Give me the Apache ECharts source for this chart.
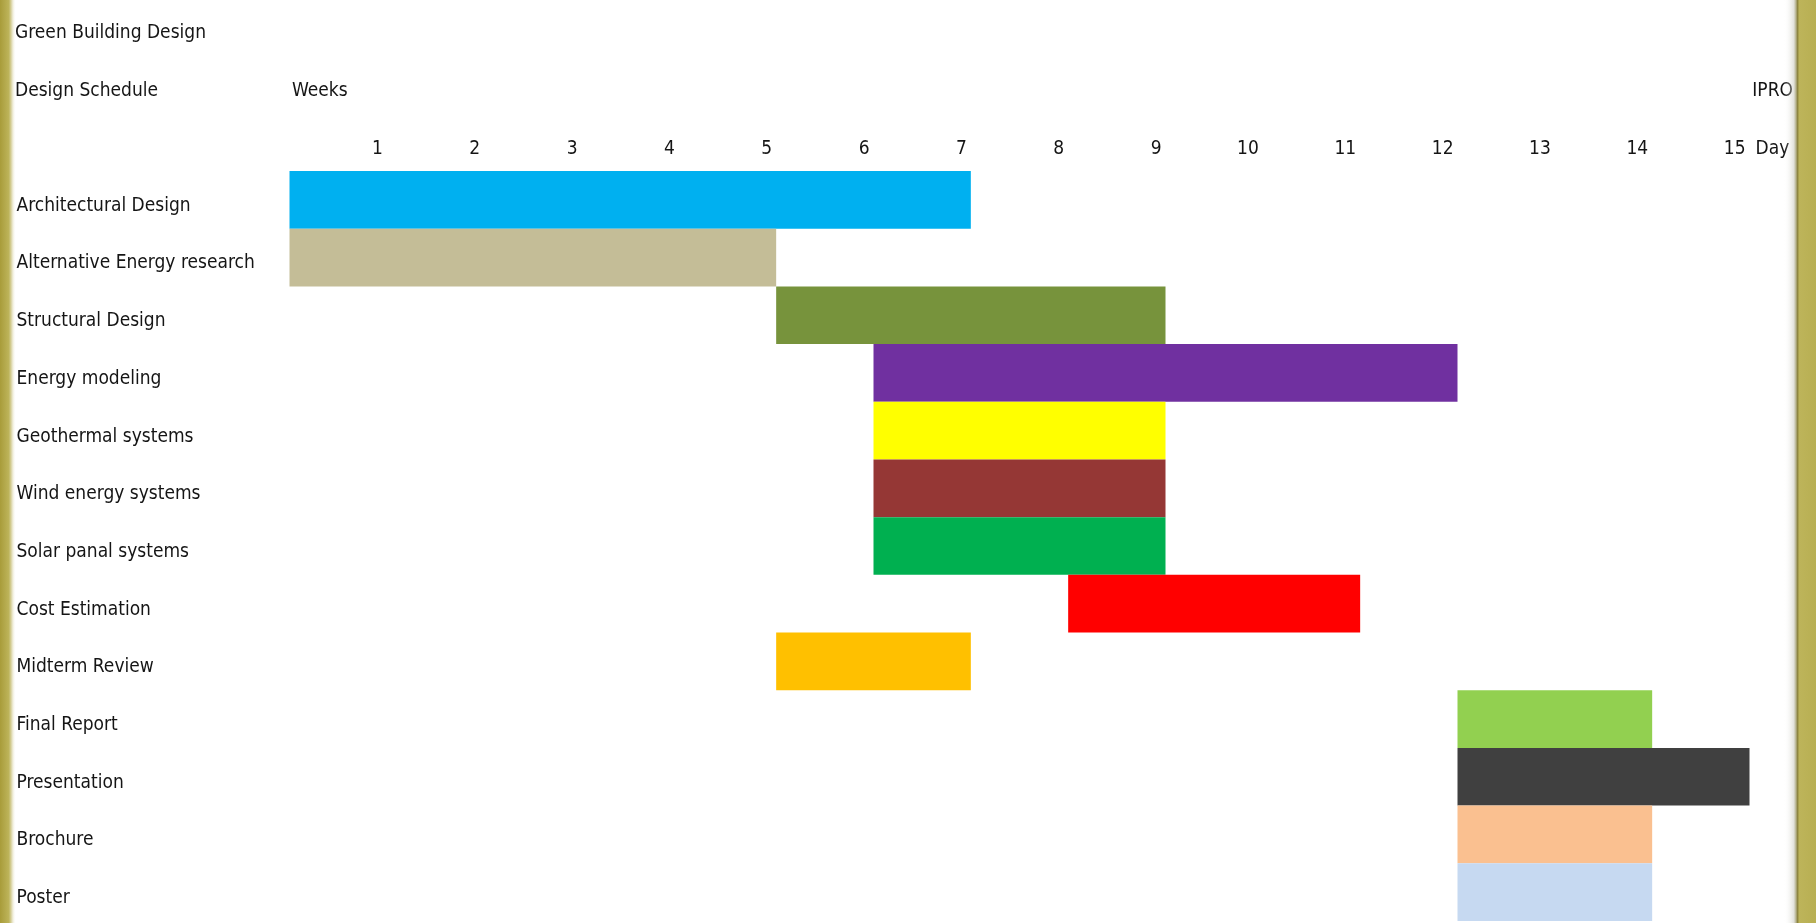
<!DOCTYPE html>
<html>
<head>
<meta charset="utf-8">
<script src="https://cdn.jsdelivr.net/npm/echarts@6/dist/echarts.min.js"></script>
<style>
  html, body { margin: 0; padding: 0; background: #ffffff; }
  #chart { width: 1816px; height: 923px; }
</style>
</head>
<body>
<div id="chart"></div>
<script>
// ---- data ----
const tasks = [
  'Architectural Design',
  'Alternative Energy research',
  'Structural Design',
  'Energy modeling',
  'Geothermal systems',
  'Wind energy systems',
  'Solar panal systems',
  'Cost Estimation',
  'Midterm Review',
  'Final Report',
  'Presentation',
  'Brochure',
  'Poster'
];
const startWeek = [0, 0, 5, 6, 6, 6, 6, 8, 5, 12, 12, 12, 12];
const endWeek   = [7, 5, 9, 12, 9, 9, 9, 11, 7, 14, 15, 14, 14];
const weekTicks = [1, 2, 3, 4, 5, 6, 7, 8, 9, 10, 11, 12, 13, 14, 15];

// ---- styles ----
const barColors = ['#00B0F0', '#C4BD97', '#77933C', '#7030A0', '#FFFF00', '#953735',
  '#00B050', '#FF0000', '#FFC000', '#92D050', '#404040', '#FAC090', '#C6D9F1'];
const FONT = '"Liberation Sans Narrow", "DejaVu Sans Condensed", "Liberation Sans", sans-serif';
const TXT = '#151515';
const FS = 19;

const durations = endWeek.map((e, i) => e - startWeek[i]);

const chart = echarts.init(document.getElementById('chart'), null, { renderer: 'canvas' });

const titleStyle = { fontFamily: FONT, fontSize: FS, fontWeight: 'normal', color: TXT };

chart.setOption({
  backgroundColor: '#ffffff',
  animation: false,
  title: [
    { text: 'Green Building Design', left: 15, top: 24, textStyle: titleStyle, padding: 0 },
    { text: 'Design Schedule', left: 15, top: 82, textStyle: titleStyle, padding: 0 },
    { text: 'Weeks', left: 292, top: 82, textStyle: titleStyle, padding: 0 },
    { text: 'IPRO', right: 23, top: 82, textStyle: titleStyle, padding: 0 }
  ],
  graphic: [
    {
      type: 'rect', left: 0, top: 0, z: 100,
      shape: { width: 16, height: 923 },
      style: {
        fill: new echarts.graphic.LinearGradient(0, 0, 1, 0, [
          { offset: 0, color: '#A89C3A' },
          { offset: 0.55, color: '#BDB45A' },
          { offset: 0.7, color: '#D8D2A0' },
          { offset: 1, color: 'rgba(255,255,255,0)' }
        ])
      }
    },
    {
      type: 'rect', left: 1784, top: 0, z: 100,
      shape: { width: 32, height: 923 },
      style: {
        fill: new echarts.graphic.LinearGradient(0, 0, 1, 0, [
          { offset: 0, color: 'rgba(255,255,255,0)' },
          { offset: 0.3, color: 'rgba(200,200,190,0.5)' },
          { offset: 0.42, color: '#8C8440' },
          { offset: 0.48, color: '#BDB45A' },
          { offset: 1, color: '#B8AF52' }
        ])
      }
    }
  ],
  grid: { left: 289.5, right: 66.5, top: 171, bottom: 2, containLabel: false },
  xAxis: {
    type: 'value',
    position: 'top',
    min: 0,
    max: 15,
    interval: 1,
    axisLine: { show: false },
    axisTick: { show: false },
    splitLine: { show: false },
    axisLabel: {
      margin: 12,
      align: 'right',
      padding: [0, 4, 0, 0],
      fontFamily: FONT,
      fontSize: FS,
      color: TXT,
      formatter: v => (weekTicks.indexOf(v) >= 0 ? String(v) : '')
    },
    name: 'Day',
    nameLocation: 'end',
    nameGap: 6,
    nameTextStyle: {
      fontFamily: FONT, fontSize: FS, color: TXT,
      align: 'left', verticalAlign: 'bottom', padding: [0, 0, 12, 0]
    }
  },
  yAxis: {
    type: 'category',
    data: tasks,
    inverse: true,
    axisLine: { show: false },
    axisTick: { show: false },
    splitLine: { show: false },
    axisLabel: {
      align: 'left',
      verticalAlign: 'top',
      lineHeight: 12,
      margin: 273,
      fontFamily: FONT,
      fontSize: FS,
      color: TXT
    }
  },
  series: [
    {
      type: 'bar',
      stack: 'gantt',
      data: startWeek,
      itemStyle: { color: 'rgba(0,0,0,0)' },
      barCategoryGap: '0%',
      silent: true
    },
    {
      type: 'bar',
      stack: 'gantt',
      data: durations,
      barCategoryGap: '0%',
      itemStyle: { color: p => barColors[p.dataIndex] }
    }
  ]
});
</script>
</body>
</html>
